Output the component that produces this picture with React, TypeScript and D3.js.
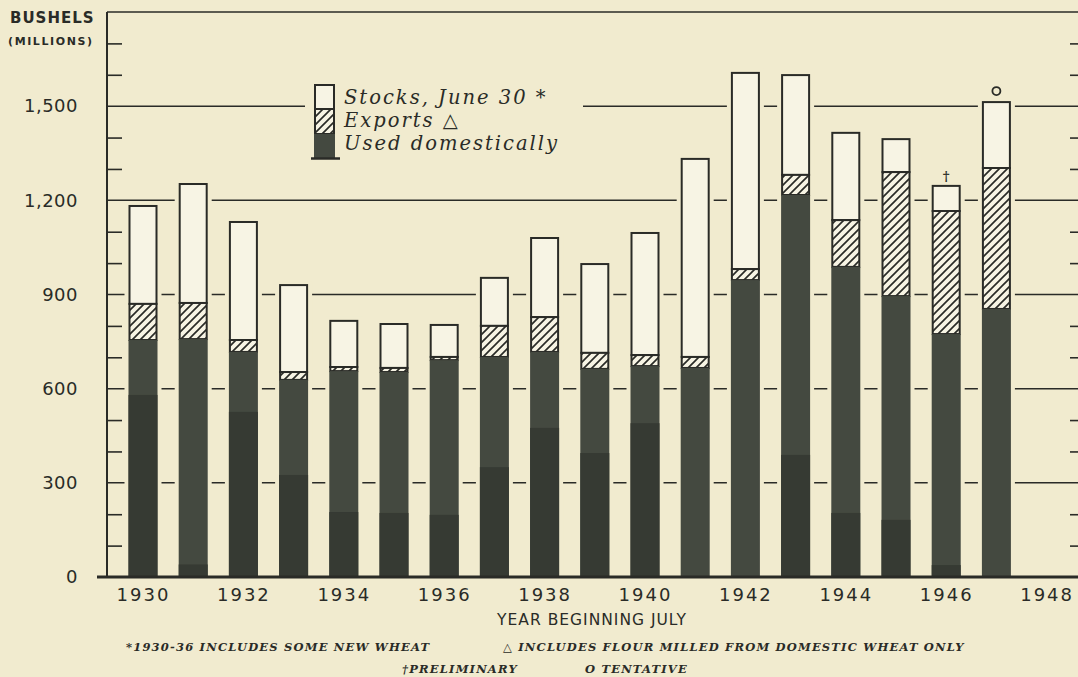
import React, { useEffect, useRef } from 'react';
import * as d3 from 'd3';

const W = 1078;
const H = 677;
const margin = { top: 12, right: 0, bottom: 100, left: 107 };
const plotBottom = 577;

const years = [1930, 1931, 1932, 1933, 1934, 1935, 1936, 1937, 1938, 1939, 1940, 1941, 1942, 1943, 1944, 1945, 1946, 1947];
// millions of bushels
const usedDomestically = [755, 758, 717, 628, 656, 653, 691, 701, 717, 663, 672, 666, 946, 1217, 988, 895, 774, 854];
const exports = [115, 115, 38, 25, 13, 13, 10, 99, 111, 51, 35, 35, 35, 64, 149, 395, 392, 449];
const stocks = [312, 379, 376, 277, 147, 140, 102, 153, 252, 283, 389, 631, 625, 318, 278, 105, 80, 210];
// darker lower tone visible inside the domestic bars of the print
const domesticLowerTone = [580, 40, 526, 325, 207, 204, 198, 350, 475, 395, 490, 0, 0, 389, 204, 182, 38, 0];

const yLabels = [0, 300, 600, 900, 1200, 1500];
const xLabels = [1930, 1932, 1934, 1936, 1938, 1940, 1942, 1944, 1946, 1948];
const minorTicks = d3.range(100, 1800, 100).filter((v) => v % 300 !== 0);

const legendItems = ['Stocks, June 30 *', 'Exports \u25B3', 'Used domestically'];

const BG = '#f1ebcf';
const PAPER = '#f7f4e4';
const INK = '#2a2b27';
const DARK = '#444940';
const DARKER = '#363a33';
const sans = '"DejaVu Sans", sans-serif';
const serif = '"DejaVu Serif", serif';

const x = d3.scaleLinear().domain([1930, 1948]).range([143, 1046.6]);
const y = d3.scaleLinear().domain([0, 1800]).range([plotBottom, margin.top]);
const barW = 27;

export default function App() {
  const yAxisRef = useRef<SVGGElement>(null);
  const yMinorRef = useRef<SVGGElement>(null);
  const yRightRef = useRef<SVGGElement>(null);
  const xAxisRef = useRef<SVGGElement>(null);

  useEffect(() => {
    const yAx = d3.axisLeft(y).tickValues(yLabels).tickSize(0).tickPadding(29).tickFormat(d3.format(','));
    const g = d3.select(yAxisRef.current!).call(yAx);
    g.select('.domain').remove();
    g.selectAll('text').attr('font-family', sans).attr('font-size', 18).attr('fill', INK).attr('letter-spacing', 0.5);

    const gm = d3.select(yMinorRef.current!).call(d3.axisLeft(y).tickValues(minorTicks).tickSizeInner(-15).tickSizeOuter(0).tickFormat(() => ''));
    gm.select('.domain').remove();
    gm.selectAll('line').attr('stroke', INK).attr('stroke-width', 1.6);

    const gr = d3.select(yRightRef.current!).call(d3.axisRight(y).tickValues(minorTicks).tickSizeInner(-12).tickSizeOuter(0).tickFormat(() => ''));
    gr.select('.domain').remove();
    gr.selectAll('line').attr('stroke', INK).attr('stroke-width', 1.6);

    const gx = d3.select(xAxisRef.current!).call(d3.axisBottom(x).tickValues(xLabels).tickSize(0).tickPadding(11).tickFormat(d3.format('d')));
    gx.select('.domain').remove();
    gx.selectAll('text').attr('font-family', sans).attr('font-size', 18).attr('fill', INK).attr('letter-spacing', 2);
  }, []);

  return (
    <svg width={W} height={H} style={{ position: 'absolute', left: 0, top: 0, background: BG }}>
      <defs>
        <pattern id="hatch" patternUnits="userSpaceOnUse" width={8} height={8}>
          <rect width={8} height={8} fill={PAPER} />
          <path d="M-2,2 L2,-2 M0,8 L8,0 M6,10 L10,6" stroke={INK} strokeWidth={1.7} />
        </pattern>
      </defs>
      <rect width={W} height={H} fill={BG} />

      {/* gridlines */}
      {yLabels.filter((v) => v > 0).map((v) => (
        <line key={v} x1={margin.left} x2={W} y1={y(v)} y2={y(v)} stroke={INK} strokeWidth={1.5} />
      ))}
      {/* legend clears the gridline */}
      <rect x={305} y={80} width={278} height={84} fill={BG} />

      {/* bars */}
      {years.map((yr, i) => {
        const cx = x(yr);
        const x0 = cx - barW / 2;
        const d0 = usedDomestically[i];
        const e0 = d0 + exports[i];
        const s0 = e0 + stocks[i];
        return (
          <g key={yr}>
            <rect x={x0 - 5} y={y(s0) - 4} width={barW + 10} height={plotBottom - y(s0) + 4} fill={BG} />
            <rect x={x0} y={y(s0)} width={barW} height={y(e0) - y(s0)} fill={PAPER} stroke={INK} strokeWidth={2} />
            <rect x={x0} y={y(e0)} width={barW} height={y(d0) - y(e0)} fill="url(#hatch)" stroke={INK} strokeWidth={2} />
            <rect x={x0 - 1} y={y(d0)} width={barW + 2} height={plotBottom - y(d0)} fill={DARK} />
            {domesticLowerTone[i] > 0 && (
              <rect x={x0 - 1} y={y(domesticLowerTone[i])} width={barW + 2} height={plotBottom - y(domesticLowerTone[i])} fill={DARKER} />
            )}
          </g>
        );
      })}

      {/* markers */}
      <text x={x(1946)} y={y(1246) - 5} textAnchor="middle" fontFamily={serif} fontWeight="bold" fontSize={13} fill={INK}>
        {'\u2020'}
      </text>
      <circle cx={x(1947)} cy={y(1513) - 11} r={4} fill="none" stroke={INK} strokeWidth={1.8} />

      {/* axes frame */}
      <line x1={margin.left} x2={margin.left} y1={margin.top} y2={plotBottom} stroke={INK} strokeWidth={2} />
      <line x1={margin.left} x2={W} y1={margin.top} y2={margin.top} stroke={INK} strokeWidth={1.5} />
      <line x1={97} x2={W} y1={plotBottom} y2={plotBottom} stroke={INK} strokeWidth={3} />
      <g ref={yMinorRef} transform={`translate(${margin.left},0)`} />
      <g ref={yRightRef} transform={`translate(${W + 4},0)`} />
      <g ref={yAxisRef} transform={`translate(${margin.left},0)`} />
      <g ref={xAxisRef} transform={`translate(0,${plotBottom})`} />

      {/* legend */}
      <g>
        <rect x={315} y={85} width={19} height={24} fill={PAPER} stroke={INK} strokeWidth={2} />
        <rect x={315} y={109} width={19} height={25} fill="url(#hatch)" stroke={INK} strokeWidth={2} />
        <rect x={314} y={134} width={21} height={24} fill={DARK} />
        <line x1={311} x2={340} y1={158.5} y2={158.5} stroke={INK} strokeWidth={2.5} />
        {legendItems.map((t, i) => (
          <text key={t} x={344} y={104 + i * 23} fontFamily={serif} fontStyle="italic" fontSize={19.5} letterSpacing={2} fill={INK}>
            {t}
          </text>
        ))}
      </g>

      {/* titles */}
      <text x={10} y={23} fontFamily={sans} fontSize={15} fontWeight="bold" letterSpacing={1} fill={INK}>BUSHELS</text>
      <text x={8} y={45} fontFamily={sans} fontSize={11} fontWeight="bold" letterSpacing={1.6} fill={INK}>(MILLIONS)</text>
      <text x={592} y={625} textAnchor="middle" fontFamily={sans} fontSize={15.5} letterSpacing={1} fill={INK}>YEAR BEGINNING JULY</text>

      {/* footnotes */}
      <g fontFamily={serif} fontStyle="italic" fontWeight="bold" fontSize={11.5} fill={INK} letterSpacing={1.2}>
        <text x={126} y={651}>*1930-36 INCLUDES SOME NEW WHEAT</text>
        <text x={503} y={651}>{'\u25B3 INCLUDES FLOUR MILLED FROM DOMESTIC WHEAT ONLY'}</text>
        <text x={402} y={673}>{'\u2020PRELIMINARY'}</text>
        <text x={585} y={673}>{'O TENTATIVE'}</text>
      </g>
    </svg>
  );
}
